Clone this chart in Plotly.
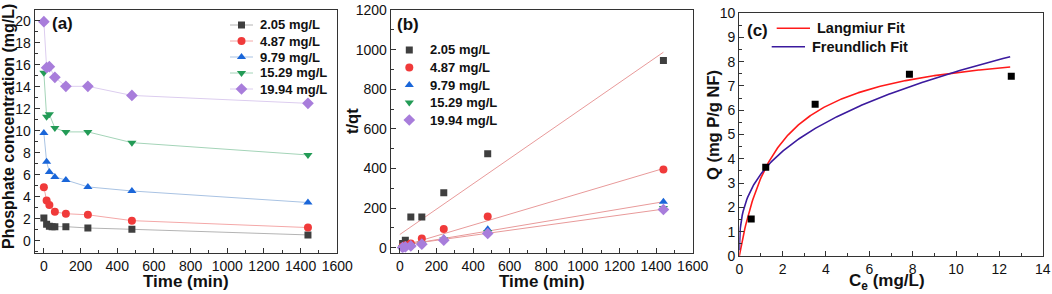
import numpy as np
import plotly.graph_objects as go

W, H = 1052, 294

# ---------------- data: panel (a) kinetics ----------------
series_names = ["2.05 mg/L", "4.87 mg/L", "9.79 mg/L", "15.29 mg/L", "19.94 mg/L"]
t_a_first = [0, 15, 30, 45, 60, 120, 240, 480, 1440]
t_a = [0, 15, 30, 60, 120, 240, 480, 1440]
c_205 = [2.05, 1.50, 1.30, 1.27, 1.27, 1.27, 1.15, 1.03, 0.52]
c_487 = [4.87, 3.65, 3.25, 2.62, 2.45, 2.35, 1.82, 1.19]
c_979 = [9.79, 7.18, 6.25, 5.80, 5.52, 4.89, 4.52, 3.47]
c_1529 = [15.29, 11.28, 11.50, 10.25, 9.90, 9.90, 8.92, 7.80]
c_1994 = [19.94, 15.75, 15.84, 14.87, 14.05, 14.05, 13.22, 12.50]

# ---------------- data: panel (b) pseudo-second-order ----------------
t_b = [15, 30, 60, 120, 240, 480, 1440]
tq_205 = [22, 38, 155, 155, 278, 475, 945]
tq_487 = [6, 12, 22, 47, 95, 158, 395]
tq_979 = [3, 7, 13, 25, 48, 93, 232]
tq_1529 = [2, 5, 10, 20, 42, 80, 200]
tq_1994 = [1, 4, 9, 18, 38, 72, 193]
fit_t = [0, 1440]
fit_205 = [67, 987]
fit_487 = [5, 400]
fit_979 = [10, 232]
fit_1994 = [12, 195]

# ---------------- data: panel (c) isotherm ----------------
ce = [0.55, 1.22, 3.50, 7.85, 12.55]
qe = [1.52, 3.65, 6.25, 7.48, 7.40]
lang_qmax, lang_kl = 8.87, 0.569
freu_kf, freu_invn = 3.38, 0.351
ce_max = 12.5

# ---------------- styles ----------------
mk_colors = ["#3f3f3f", "#f03a3a", "#1a66d9", "#239b56", "#a87ddb"]
ln_colors = ["#b4b4b4", "#f4a8a8", "#a9c3e3", "#a4d4b8", "#dccdef"]
symbols = ["square", "circle", "triangle-up", "triangle-down", "diamond"]
msizes = [7, 8, 8, 8, 9]
FONT = "Arial, Liberation Sans, sans-serif"
FRAME = "#333333"

fig = go.Figure()

a_times = [t_a_first, t_a, t_a, t_a, t_a]
a_vals = [c_205, c_487, c_979, c_1529, c_1994]
for i in range(5):
    fig.add_trace(go.Scatter(
        x=a_times[i], y=a_vals[i], mode="lines+markers", xaxis="x", yaxis="y",
        line=dict(color=ln_colors[i], width=1),
        marker=dict(symbol=symbols[i], size=msizes[i], color=mk_colors[i]),
        showlegend=False, hoverinfo="skip"))

b_vals = [tq_205, tq_487, tq_979, tq_1529, tq_1994]
for fv in [fit_205, fit_487, fit_979, fit_1994]:
    fig.add_trace(go.Scatter(x=fit_t, y=fv, mode="lines", xaxis="x2", yaxis="y2",
                             line=dict(color="#e89a9a", width=1),
                             showlegend=False, hoverinfo="skip"))
for i in range(5):
    fig.add_trace(go.Scatter(
        x=t_b, y=b_vals[i], mode="markers", xaxis="x2", yaxis="y2",
        marker=dict(symbol=symbols[i], size=msizes[i], color=mk_colors[i]),
        showlegend=False, hoverinfo="skip"))

cgrid = np.concatenate([np.linspace(0.0005, 0.05, 40), np.linspace(0.05, ce_max, 300)])
q_lang = lang_qmax * lang_kl * cgrid / (1 + lang_kl * cgrid)
q_freu = freu_kf * cgrid ** freu_invn
fig.add_trace(go.Scatter(x=[0.0] + cgrid.tolist(), y=[0.0] + q_lang.tolist(),
                         mode="lines", xaxis="x3", yaxis="y3",
                         line=dict(color="#ff1a1a", width=1.6), showlegend=False, hoverinfo="skip"))
fig.add_trace(go.Scatter(x=cgrid.tolist(), y=q_freu.tolist(), mode="lines", xaxis="x3", yaxis="y3",
                         line=dict(color="#3b1a9e", width=1.6), showlegend=False, hoverinfo="skip"))
fig.add_trace(go.Scatter(x=ce, y=qe, mode="markers", xaxis="x3", yaxis="y3",
                         marker=dict(symbol="square", size=7, color="#000000"),
                         showlegend=False, hoverinfo="skip"))

# ---------------- legend keys on a pixel overlay ----------------
leg_a_y = [25, 41, 57, 73, 89]
leg_b_y = [50, 67.5, 85, 102.5, 120]
annotations = []
for i in range(5):
    fig.add_trace(go.Scatter(x=[230, 253], y=[leg_a_y[i]] * 2, mode="lines", xaxis="x4", yaxis="y4",
                             line=dict(color=ln_colors[i], width=1), showlegend=False, hoverinfo="skip"))
    fig.add_trace(go.Scatter(x=[241.5], y=[leg_a_y[i]], mode="markers", xaxis="x4", yaxis="y4",
                             marker=dict(symbol=symbols[i], size=msizes[i], color=mk_colors[i]),
                             showlegend=False, hoverinfo="skip"))
    fig.add_trace(go.Scatter(x=[409.3], y=[leg_b_y[i]], mode="markers", xaxis="x4", yaxis="y4",
                             marker=dict(symbol=symbols[i], size=msizes[i], color=mk_colors[i]),
                             showlegend=False, hoverinfo="skip"))
    annotations.append(dict(x=258 / W, y=1 - leg_a_y[i] / H, xref="paper", yref="paper",
                            text="<b>%s</b>" % series_names[i], showarrow=False,
                            xanchor="left", yanchor="middle", font=dict(family=FONT, size=13, color="#111")))
    annotations.append(dict(x=428 / W, y=1 - leg_b_y[i] / H, xref="paper", yref="paper",
                            text="<b>%s</b>" % series_names[i], showarrow=False,
                            xanchor="left", yanchor="middle", font=dict(family=FONT, size=13, color="#111")))

fit_names = ["Langmiur Fit", "Freundlich Fit"]
fit_cols = ["#ff1a1a", "#3b1a9e"]
fit_leg = [(776.7, 810, 815, 28.3), (771.7, 805, 810, 46.7)]
for i in range(2):
    x0, x1, xt, yy = fit_leg[i]
    fig.add_trace(go.Scatter(x=[x0, x1], y=[yy, yy], mode="lines", xaxis="x4", yaxis="y4",
                             line=dict(color=fit_cols[i], width=1.6), showlegend=False, hoverinfo="skip"))
    annotations.append(dict(x=xt / W, y=1 - yy / H, xref="paper", yref="paper",
                            text="<b>%s</b>" % fit_names[i], showarrow=False,
                            xanchor="left", yanchor="middle", font=dict(family=FONT, size=14.5, color="#111")))

# ---------------- titles / panel labels ----------------
def ann(text, x, y, size, angle=0):
    return dict(x=x / W, y=1 - y / H, xref="paper", yref="paper", text=text, showarrow=False,
                xanchor="center", yanchor="middle", textangle=angle,
                font=dict(family=FONT, size=size, color="#111"))

annotations += [
    ann("<b>Phosphate concentration (mg/L)</b>", 9, 127, 16, -90),
    ann("<b>Time (min)</b>", 186, 281, 17),
    ann("<b>t/qt</b>", 352, 121, 16.5, -90),
    ann("<b>Time (min)</b>", 541.7, 281, 17),
    ann("<b>Q (mg P/g NF)</b>", 713, 125, 16.5, -90),
    ann("<b>C<sub>e</sub> (mg/L)</b>", 887, 282, 17),
    ann("<b>(a)</b>", 62, 24, 17),
    ann("<b>(b)</b>", 407.5, 25, 17),
    ann("<b>(c)</b>", 757.5, 30, 17),
]

def axis(domain, rng, dtick, minor_dtick, anchor):
    return dict(domain=domain, range=rng, dtick=dtick, tick0=0, anchor=anchor,
                showline=True, linecolor=FRAME, linewidth=1.2, mirror=True,
                ticks="inside", ticklen=5, tickwidth=1, tickcolor=FRAME,
                minor=dict(dtick=minor_dtick, ticks="inside", ticklen=3, tickcolor=FRAME, showgrid=False),
                showgrid=False, zeroline=False, automargin=False,
                tickfont=dict(family=FONT, size=14, color="#111"))

xa = [34.7 / W, 337.3 / W]
xb = [390.7 / W, 692.7 / W]
xc = [739.3 / W, 1042.7 / W]
yab = [1 - 252.7 / H, 1 - 10 / H]
yc = [1 - 256 / H, 1 - 13 / H]

fig.update_layout(
    width=W, height=H, margin=dict(l=0, r=0, t=0, b=0),
    paper_bgcolor="white", plot_bgcolor="rgba(0,0,0,0)", showlegend=False,
    xaxis=axis(xa, [-50, 1600], 200, 100, "y"),
    yaxis=axis(yab, [-1.1, 21], 2, 1, "x"),
    xaxis2=axis(xb, [-50, 1600], 200, 100, "y2"),
    yaxis2=axis(yab, [-25, 1200], 200, 100, "x2"),
    xaxis3=axis(xc, [0, 14], 2, 1, "y3"),
    yaxis3=axis(yc, [0, 10], 1, 0.5, "x3"),
    xaxis4=dict(domain=[0, 1], range=[0, W], visible=False, anchor="y4"),
    yaxis4=dict(domain=[0, 1], range=[H, 0], visible=False, anchor="x4"),
    annotations=annotations,
)

fig.write_html("out.html", config={"displayModeBar": False},
               post_script="document.body.style.margin='0';")
